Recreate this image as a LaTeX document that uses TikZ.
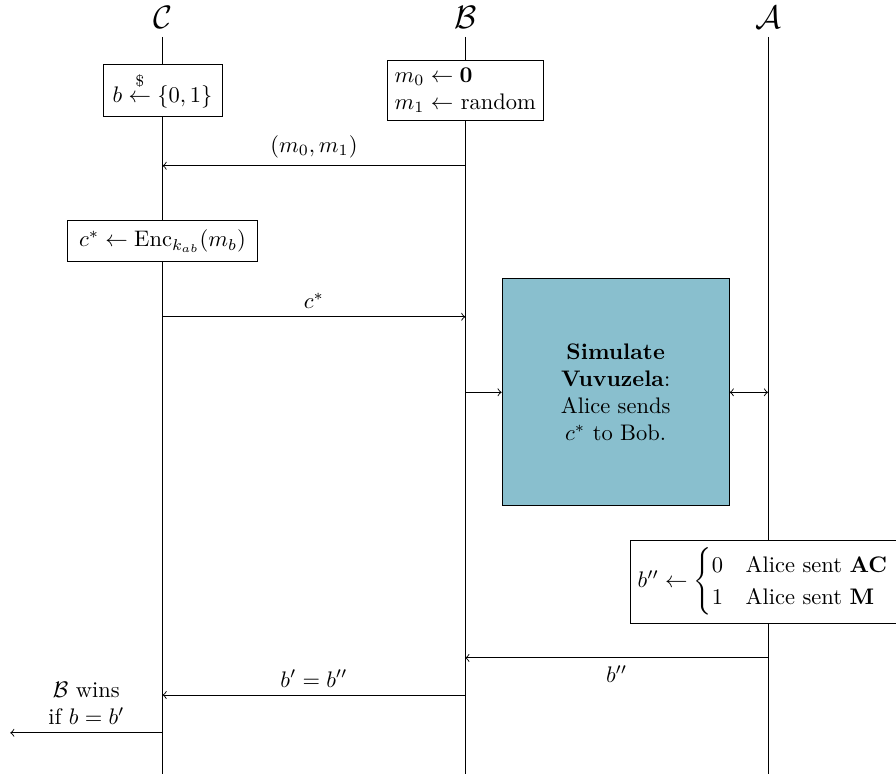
\documentclass[tikz,border=0pt]{standalone}
\usepackage{xcolor}
\usepackage{amsmath}
\definecolor{simblue}{RGB}{137,191,206}
\tikzset{
    partybox/.style={draw,fill=white,align=left},
    msg/.style={->}
}

\begin{document}
\begin{tikzpicture}
    \useasboundingbox (0,0) rectangle (14,-12.09);
    % Parties and lifelines
    \foreach \p/\x in {C/2.54,B/7.27,A/12} {
        \node[font=\Large] (\p) at (\x,-0.28) {$\mathcal{\p}$};
        \coordinate (\p-end) at (\x,-12.09);
        \draw (\p.south) -- (\p-end);
    }
    % Setup
    \node[partybox,minimum width=1.86cm,minimum height=0.81cm] (bpick) at (2.54,-1.41)
        {$b \overset{\raisebox{1.5pt}{$\scriptstyle\$$}}{\leftarrow} \{0,1\}$};
    \node[partybox] (mpick) at (7.27,-1.41)
        {$m_0 \leftarrow \mathbf{0}$\\$m_1 \leftarrow$ random};
    \coordinate (m-from) at (7.27,-2.59);
    \coordinate (m-to) at (2.54,-2.59);
    \draw[msg] (m-from) -- (m-to) node[midway,above]{$(m_0,m_1)$};
    % Challenge
    \node[partybox,minimum width=2.98cm,minimum height=0.64cm] (enc) at (2.54,-3.77)
        {$c^* \leftarrow \mathrm{Enc}_{k_{ab}}(m_b)$};
    \coordinate (c-from) at (2.54,-4.95);
    \coordinate (c-to) at (7.27,-4.95);
    \draw[msg] (c-from) -- (c-to) node[midway,above]{$c^*$};
    % Simulation
    \node[draw,fill=simblue,minimum size=3.55cm,text width=1.8cm,align=center]
        (sim) at (9.62,-6.13) {\textbf{Simulate Vuvuzela}: Alice sends $c^*$ to Bob.};
    \draw[msg] (B |- sim.west) -- (sim.west);
    \draw[<->] (sim.east) -- (A |- sim.east);
    % Guess
    \node[partybox,anchor=west,minimum height=1.27cm] (guess) at (9.84,-9.09)
        {$b'' \leftarrow \begin{cases}0 & \text{Alice sent \textbf{AC}}\\
                                       1 & \text{Alice sent \textbf{M}}\end{cases}$};
    \coordinate (g-from) at (12,-10.28);
    \coordinate (g-to) at (7.27,-10.28);
    \draw[msg] (g-from) -- (g-to) node[midway,below]{$b''$};
    \coordinate (o-from) at (7.27,-10.86);
    \coordinate (o-to) at (2.54,-10.86);
    \draw[msg] (o-from) -- (o-to) node[midway,above]{$b' = b''$};
    % Outcome
    \coordinate (w-from) at (2.54,-11.45);
    \coordinate (w-to) at (0.16,-11.45);
    \draw[msg] (w-from) -- (w-to)
        node[midway,above,align=center]{$\mathcal{B}$ wins\\if $b = b'$};
\end{tikzpicture}
\end{document}
